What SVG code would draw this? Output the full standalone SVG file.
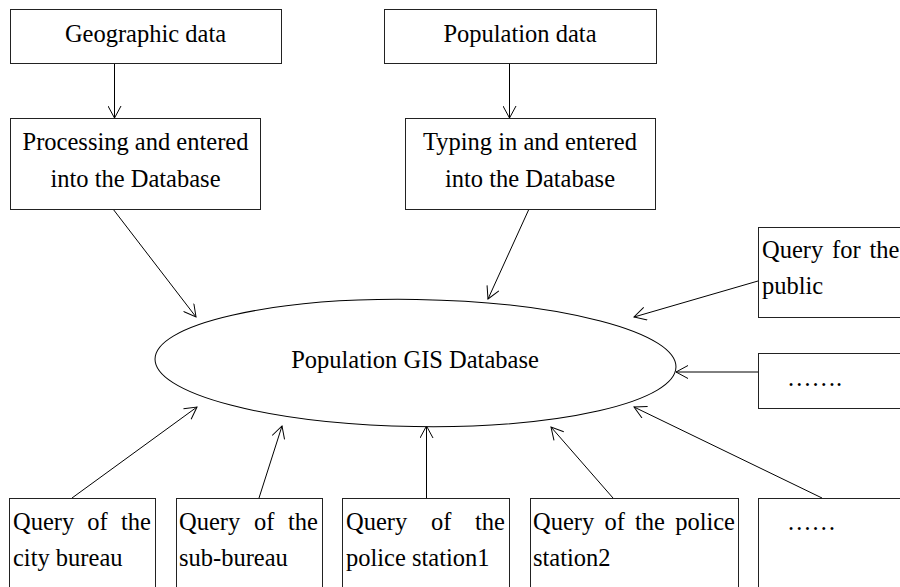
<svg xmlns="http://www.w3.org/2000/svg" width="900" height="587" viewBox="0 0 900 587">
<style>
.box{fill:#fff;stroke:#222;stroke-width:1}
.t{font-family:"Liberation Serif","Times New Roman",serif;font-size:24.5px;fill:#000}
.c{text-anchor:middle}
.e{text-anchor:end}
.ln{stroke:#000;stroke-width:1;fill:none;marker-end:url(#ah)}
</style>
<defs>
<marker id="ah" markerUnits="userSpaceOnUse" markerWidth="14" markerHeight="14" viewBox="0 0 14 14" refX="13" refY="7" orient="auto">
<path d="M1,0.5 L13,7 L1,13.5" fill="none" stroke="#000" stroke-width="1"/>
</marker>
</defs>
<rect width="900" height="587" fill="#fff"/>
<g id="connectors">
<line class="ln" x1="114.5" y1="63" x2="114.5" y2="118"/>
<line class="ln" x1="509.5" y1="63" x2="509.5" y2="118"/>
<line class="ln" x1="113" y1="209" x2="196" y2="317"/>
<line class="ln" x1="529" y1="209" x2="488" y2="299"/>
<line class="ln" x1="758" y1="281" x2="634" y2="317"/>
<line class="ln" x1="758" y1="372" x2="676" y2="372"/>
<line class="ln" x1="822" y1="498" x2="634" y2="407"/>
<line class="ln" x1="72" y1="498" x2="197" y2="407"/>
<line class="ln" x1="259" y1="498" x2="282" y2="426"/>
<line class="ln" x1="426.5" y1="498" x2="426.5" y2="426"/>
<line class="ln" x1="613" y1="498" x2="551" y2="427"/>
</g>
<g id="geographic">
<rect class="box" x="10.5" y="9.5" width="271" height="54"/>
<text class="t c" x="145.5" y="42">Geographic data</text>
</g>
<g id="processing">
<rect class="box" x="10.5" y="118.5" width="250" height="91"/>
<text class="t c" x="135.5" y="150">Processing and entered</text>
<text class="t c" x="135.5" y="187">into the Database</text>
</g>
<g id="population">
<rect class="box" x="384.5" y="9.5" width="272" height="54"/>
<text class="t c" x="520" y="42">Population data</text>
</g>
<g id="typing">
<rect class="box" x="405.5" y="118.5" width="250" height="91"/>
<text class="t c" x="530" y="150">Typing in and entered</text>
<text class="t c" x="530" y="187">into the Database</text>
</g>
<g id="database">
<ellipse cx="415.5" cy="363" rx="260.5" ry="63.5" transform="rotate(0.9 415.5 363)" fill="#fff" stroke="#000" stroke-width="1"/>
<text class="t c" x="415" y="368">Population GIS Database</text>
</g>
<g id="public">
<rect class="box" x="758.5" y="227.5" width="200" height="90"/>
<text class="t" y="258"><tspan x="762">Query</tspan><tspan x="832">for</tspan><tspan x="869.5">the</tspan></text>
<text class="t" x="762" y="294">public</text>
</g>
<g id="more-right">
<rect class="box" x="758.5" y="353.5" width="200" height="55"/>
<text class="t" x="787" y="386">…….</text>
</g>
<g id="city-bureau">
<rect class="box" x="9.5" y="498.5" width="146" height="100"/>
<text class="t" y="530"><tspan x="13">Query</tspan><tspan x="87.3">of</tspan></text>
<text class="t e" x="151" y="530">the</text>
<text class="t" x="13" y="566">city bureau</text>
</g>
<g id="sub-bureau">
<rect class="box" x="176.5" y="498.5" width="146" height="100"/>
<text class="t" y="530"><tspan x="179">Query</tspan><tspan x="254">of</tspan></text>
<text class="t e" x="318" y="530">the</text>
<text class="t" x="179" y="566">sub-bureau</text>
</g>
<g id="station1">
<rect class="box" x="342.5" y="498.5" width="167" height="100"/>
<text class="t" y="530"><tspan x="346">Query</tspan><tspan x="431">of</tspan></text>
<text class="t e" x="505" y="530">the</text>
<text class="t" x="346" y="566">police station1</text>
</g>
<g id="station2">
<rect class="box" x="530.5" y="498.5" width="208" height="100"/>
<text class="t" y="530"><tspan x="533">Query</tspan><tspan x="604.4">of</tspan><tspan x="635">the</tspan></text>
<text class="t e" x="735" y="530">police</text>
<text class="t" x="533" y="566">station2</text>
</g>
<g id="more-bottom">
<rect class="box" x="758.5" y="498.5" width="200" height="100"/>
<text class="t" x="787" y="530">……</text>
</g>
</svg>
